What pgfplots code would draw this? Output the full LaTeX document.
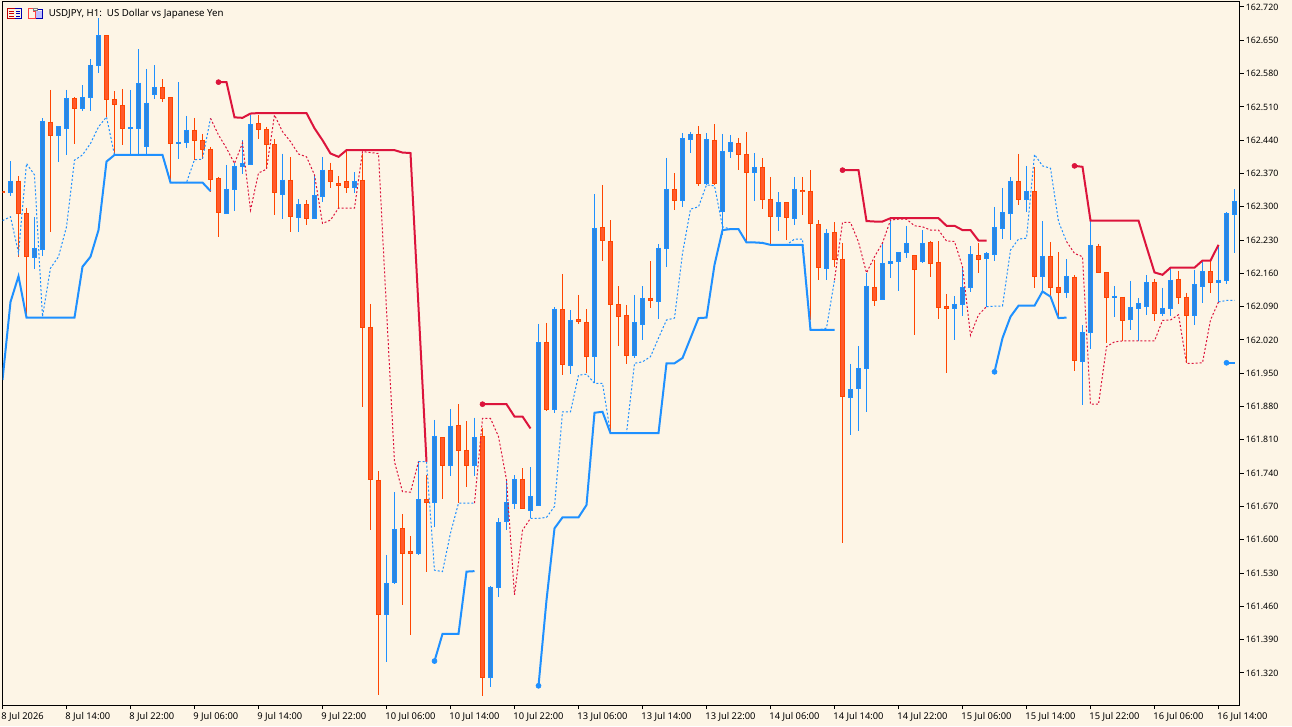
\documentclass[border=0pt]{standalone}
\usepackage{pgfplots}
\usepackage{pgfplotstable}
\usepackage{fontspec}
\setmainfont{Noto Sans}
\pgfplotsset{compat=1.18}
\definecolor{bg}{HTML}{FDF5E6}
\definecolor{upw}{HTML}{1E90FF}
\definecolor{upb}{HTML}{2E86DE}
\definecolor{dnw}{HTML}{FF4500}
\definecolor{dnb}{HTML}{FF5A2B}
\definecolor{stred}{HTML}{DC143C}
\pgfplotstableread{
i h t b l
1 162.396 162.354 162.330 162.323
4 162.278 162.213 162.194 162.170
5 162.486 162.480 162.210 162.197
7 162.468 162.468 162.450 162.395
8 162.546 162.528 162.464 162.409
10 162.556 162.530 162.506 162.501
11 162.610 162.598 162.529 162.501
12 162.696 162.660 162.597 162.582
16 162.546 162.466 162.464 162.409
17 162.631 162.560 162.464 162.411
18 162.590 162.518 162.426 162.409
19 162.598 162.551 162.537 162.527
22 162.562 162.436 162.433 162.400
23 162.491 162.461 162.435 162.423
28 162.388 162.337 162.286 162.286
29 162.391 162.385 162.336 162.291
30 162.440 162.391 162.384 162.369
31 162.493 162.473 162.389 162.389
35 162.412 162.356 162.326 162.274
37 162.316 162.305 162.277 162.246
39 162.367 162.324 162.276 162.276
40 162.405 162.377 162.321 162.309
44 162.373 162.354 162.340 162.330
48 161.568 161.508 161.442 161.344
49 161.700 161.622 161.510 161.507
52 161.766 161.685 161.571 161.567
54 161.852 161.818 161.678 161.627
56 161.875 161.839 161.756 161.734
59 161.857 161.815 161.756 161.734
61 161.503 161.500 161.310 161.291
62 161.645 161.637 161.499 161.480
63 161.726 161.679 161.638 161.620
64 161.736 161.727 161.676 161.665
66 161.752 161.691 161.661 161.645
67 162.054 162.014 161.672 161.672
69 162.089 162.085 161.873 161.867
71 162.083 162.061 161.966 161.948
74 162.327 162.255 161.985 161.929
79 162.115 162.056 161.987 161.982
80 162.133 162.108 162.052 162.019
82 162.221 162.213 162.100 162.064
83 162.403 162.337 162.212 162.174
85 162.455 162.444 162.313 162.300
86 162.458 162.453 162.441 162.413
88 162.455 162.442 162.349 162.346
90 162.453 162.417 162.290 162.241
91 162.451 162.436 162.416 162.403
94 162.413 162.383 162.372 162.312
97 162.331 162.309 162.279 162.249
99 162.363 162.337 162.275 162.262
103 162.253 162.244 162.170 162.146
106 161.970 161.916 161.899 161.820
107 162.007 161.960 161.918 161.829
108 162.160 162.133 161.960 161.869
110 162.227 162.181 162.105 162.104
111 162.274 162.185 162.180 162.151
112 162.204 162.204 162.185 162.123
113 162.260 162.222 162.203 162.193
115 162.251 162.223 162.184 162.182
119 162.112 162.095 162.086 162.020
120 162.174 162.131 162.094 162.071
121 162.218 162.200 162.130 162.121
123 162.205 162.201 162.191 162.090
124 162.300 162.257 162.199 162.187
125 162.340 162.288 162.254 162.232
126 162.362 162.354 162.285 162.230
128 162.386 162.333 162.315 162.289
130 162.270 162.196 162.153 162.121
133 162.190 162.154 162.119 162.108
135 162.051 162.036 161.974 161.883
136 162.270 162.219 162.035 162.001
139 162.133 162.112 162.109 162.068
141 162.144 162.089 162.063 162.041
142 162.108 162.096 162.086 162.017
143 162.156 162.140 162.091 162.073
145 162.130 162.087 162.075 162.070
146 162.169 162.146 162.086 162.070
149 162.168 162.136 162.071 162.051
150 162.184 162.163 162.133 162.098
152 162.220 162.146 162.140 162.098
153 162.289 162.285 162.145 162.138
154 162.337 162.312 162.283 162.203
}\upcandles
\pgfplotstableread{
i h t b l
0 162.333 162.333 162.330 162.330
2 162.365 162.354 162.286 162.195
3 162.297 162.286 162.195 162.066
6 162.546 162.478 162.450 162.248
9 162.530 162.528 162.506 162.432
13 162.661 162.660 162.526 162.489
14 162.543 162.526 162.515 162.409
15 162.548 162.513 162.464 162.430
20 162.568 162.551 162.527 162.521
21 162.530 162.530 162.433 162.351
24 162.487 162.461 162.439 162.399
25 162.453 162.440 162.420 162.400
26 162.426 162.421 162.357 162.332
27 162.363 162.360 162.288 162.237
32 162.493 162.475 162.462 162.443
33 162.468 162.463 162.431 162.379
34 162.442 162.431 162.330 162.283
36 162.405 162.356 162.279 162.246
38 162.314 162.305 162.276 162.262
41 162.393 162.377 162.354 162.340
42 162.365 162.348 162.345 162.297
43 162.418 162.354 162.340 162.330
45 162.412 162.356 162.046 161.880
46 162.096 162.047 161.726 161.620
47 161.745 161.725 161.442 161.274
50 161.654 161.624 161.571 161.463
51 161.608 161.576 161.571 161.400
53 161.736 161.685 161.678 161.532
55 161.816 161.815 161.756 161.686
57 161.885 161.841 161.787 161.677
58 161.849 161.788 161.756 161.711
60 161.834 161.818 161.310 161.272
65 161.750 161.727 161.665 161.665
68 162.056 162.015 161.873 161.871
70 162.159 162.084 161.968 161.946
72 162.115 162.063 162.058 162.054
73 162.085 162.057 161.985 161.950
75 162.346 162.257 162.229 162.186
76 162.272 162.227 162.094 161.824
77 162.133 162.095 162.070 162.007
78 162.094 162.072 161.987 161.970
81 162.186 162.108 162.103 162.087
84 162.370 162.337 162.314 162.293
87 162.470 162.452 162.349 162.344
89 162.474 162.440 162.349 162.346
92 162.445 162.433 162.409 162.377
93 162.457 162.410 162.372 162.226
95 162.403 162.383 162.315 162.295
96 162.363 162.316 162.279 162.222
98 162.309 162.309 162.277 162.230
100 162.363 162.335 162.332 162.283
101 162.377 162.333 162.264 162.062
102 162.272 162.263 162.172 162.146
104 162.267 162.246 162.189 162.173
105 162.223 162.190 161.901 161.593
109 162.188 162.131 162.103 162.092
114 162.197 162.197 162.168 162.030
116 162.229 162.225 162.180 162.152
117 162.228 162.183 162.088 162.064
118 162.117 162.091 162.086 161.951
122 162.224 162.198 162.189 162.161
127 162.411 162.354 162.315 162.304
129 162.383 162.333 162.153 162.129
131 162.225 162.196 162.130 162.108
132 162.205 162.131 162.119 162.069
134 162.156 162.152 161.976 161.955
137 162.222 162.217 162.161 162.161
138 162.162 162.162 162.109 162.014
140 162.110 162.110 162.061 162.018
144 162.148 162.140 162.075 162.060
147 162.166 162.148 162.109 162.096
148 162.119 162.110 162.071 161.971
151 162.186 162.163 162.141 162.118
}\dncandles
\newcommand{\candleset}[3]{%
  \addplot[draw=none,mark=none,forget plot,error bars/.cd,y dir=minus,y explicit,error mark=none,error bar style={draw=#2,solid,line width=0.75pt}]
    table[x=i,y expr=\thisrow{h},y error minus expr=\thisrow{h}-\thisrow{l}]{#1};
  \addplot[draw=none,mark=none,forget plot,error bars/.cd,y dir=minus,y explicit,error mark=none,error bar style={draw=#2,solid,line width=3.75pt}]
    table[x=i,y expr=\thisrow{t}+0.001,y error minus expr=\thisrow{t}-\thisrow{b}+0.002]{#1};
  \addplot[draw=none,mark=none,forget plot,error bars/.cd,y dir=minus,y explicit,error mark=none,error bar style={draw=#3,solid,line width=2.4pt}]
    table[x=i,y expr=\thisrow{t}-0.001,y error minus expr=\thisrow{t}-\thisrow{b}-0.002]{#1};
}
\begin{document}
\begin{tikzpicture}
\fill[bg] (-1.875pt,-15.75pt) rectangle (967.125pt,528.75pt);
\begin{axis}[
  at={(0,0)},anchor=south west,
  scale only axis,width=927.75pt,height=527.25pt,
  xmin=0,xmax=154.625,ymin=161.2526,ymax=162.7305,
  axis line style={black,line width=0.75pt},
  tick style={black,line width=0.75pt},
  tick align=outside,major tick length=3pt,
  xtick pos=bottom,ytick pos=right,
  xtick={0,8,...,152},
  xticklabels={8 Jul 2026,8 Jul 14:00,8 Jul 22:00,9 Jul 06:00,9 Jul 14:00,9 Jul 22:00,10 Jul 06:00,10 Jul 14:00,10 Jul 22:00,13 Jul 06:00,13 Jul 14:00,13 Jul 22:00,14 Jul 06:00,14 Jul 14:00,14 Jul 22:00,15 Jul 06:00,15 Jul 14:00,15 Jul 22:00,16 Jul 06:00,16 Jul 14:00},
  xticklabel style={anchor=north west,inner sep=0pt,font=\fontsize{7}{8}\selectfont,yshift=-2.6pt,xshift=-1pt},
  ytick={161.32,161.39,161.46,161.53,161.60,161.67,161.74,161.81,161.88,161.95,162.02,162.09,162.16,162.23,162.30,162.37,162.44,162.51,162.58,162.65,162.72},
  yticklabel style={anchor=west,inner sep=0pt,font=\fontsize{6.6}{7}\selectfont,xshift=1.5pt,/pgf/number format/.cd,fixed,fixed zerofill,precision=3,1000 sep={},assume math mode=true},
  clip=true,
]
\candleset{\upcandles}{upw}{upb}
\candleset{\dncandles}{dnw}{dnb}
% dashed band, blue parts
\addplot[upw,line width=0.75pt,dash pattern=on 1.5pt off 1.5pt] coordinates {(0,162.271)(1,162.279)(2,162.203)(3,162.391)(4,162.367)(5,162.069)(6,162.171)(7,162.195)(8,162.258)(9,162.398)(10,162.409)(11,162.433)(12,162.468)(13,162.489)(14,162.409)(20,162.409)(21,162.351)(23,162.351)(24,162.399)(25,162.400)(26,162.486)};
\addplot[upw,line width=0.75pt,dash pattern=on 1.5pt off 1.5pt] coordinates {(52,161.764)(53,161.764)(54,161.536)(55,161.533)(56,161.614)(57,161.677)(59,161.677)};
\addplot[upw,line width=0.75pt,dash pattern=on 1.5pt off 1.5pt] coordinates {(66,161.645)(67,161.645)(68,161.647)(69,161.670)(70,161.869)(71,161.869)(72,161.946)(73,161.948)(74,161.929)(75,161.929)(76,161.824)(78,161.824)(79,161.971)(80,161.974)(81,161.985)(82,162.024)(83,162.062)(84,162.066)(85,162.202)(86,162.295)(87,162.300)(88,162.346)(89,162.344)(90,162.258)(91,162.253)(92,162.253)(93,162.225)(95,162.225)(96,162.220)(98,162.220)(99,162.232)(100,162.232)(101,162.041)(102,162.041)(103,162.045)(104,162.146)};
\addplot[upw,line width=0.75pt,dash pattern=on 1.5pt off 1.5pt] coordinates {(123,162.090)(124,162.091)(125,162.091)(126,162.209)(127,162.232)(128,162.234)(129,162.410)(130,162.386)(131,162.381)(132,162.269)(133,162.227)};
\addplot[upw,line width=0.75pt,dash pattern=on 1.5pt off 1.5pt] coordinates {(152,162.100)(153,162.103)(154,162.103)};
% dashed band, red parts
\addplot[stred,line width=0.75pt,dash pattern=on 1.5pt off 1.5pt] coordinates {(26,162.486)(27,162.451)(28,162.423)(29,162.391)(30,162.434)(31,162.293)(32,162.371)(33,162.379)(34,162.493)(35,162.458)(36,162.437)(37,162.411)(38,162.405)(39,162.367)(40,162.265)(41,162.272)(42,162.297)(44,162.297)(45,162.416)(46,162.414)(47,162.412)(48,162.083)(49,161.764)(50,161.701)(51,161.700)(52,161.764)};
\addplot[stred,line width=0.75pt,dash pattern=on 1.5pt off 1.5pt] coordinates {(59,161.677)(60,161.855)(61,161.855)(62,161.817)(63,161.726)(64,161.484)(65,161.620)(66,161.645)};
\addplot[stred,line width=0.75pt,dash pattern=on 1.5pt off 1.5pt] coordinates {(104,162.146)(105,162.267)(106,162.267)(107,162.226)(108,162.161)(109,162.195)(110,162.224)(111,162.272)(112,162.274)(113,162.274)(114,162.260)(115,162.258)(116,162.251)(117,162.251)(118,162.228)(119,162.227)(120,162.174)(121,162.030)(122,162.073)(123,162.090)};
\addplot[stred,line width=0.75pt,dash pattern=on 1.5pt off 1.5pt] coordinates {(133,162.227)(134,162.202)(135,162.195)(136,161.885)(137,161.885)(138,162.006)(139,162.016)(140,162.018)(144,162.018)(145,162.061)(146,162.062)(147,162.073)(148,161.971)(149,161.971)(150,161.972)(151,162.062)(152,162.100)};
% solid blue
\addplot[upw,line width=1.5pt] coordinates {(0,161.936)(1,162.100)(2,162.154)(3,162.067)(9,162.067)(10,162.174)(11,162.195)(12,162.251)(13,162.395)(14,162.409)(20,162.409)(21,162.351)(25,162.351)(26,162.333)};
\addplot[upw,line width=1.5pt] coordinates {(54,161.345)(55,161.402)(57,161.402)(58,161.533)(59,161.534)};
\addplot[upw,line width=1.5pt] coordinates {(67,161.293)(68,161.473)(69,161.624)(70,161.647)(72,161.647)(73,161.673)(74,161.867)(75,161.869)(76,161.824)(82,161.824)(83,161.971)(84,161.971)(85,161.982)(86,162.024)(87,162.066)(88,162.067)(89,162.178)(90,162.251)(91,162.253)(92,162.253)(93,162.225)(94,162.225)(95,162.224)(96,162.220)(100,162.220)(101,162.041)(104,162.041)};
\addplot[upw,line width=1.5pt] coordinates {(124,161.953)(125,162.024)(126,162.069)(127,162.092)(129,162.092)(130,162.122)(131,162.111)(132,162.066)(133,162.067)};
\addplot[upw,line width=1.5pt] coordinates {(153,161.972)(154,161.972)};
% solid red
\addplot[stred,line width=1.5pt] coordinates {(27,162.562)(28,162.562)(29,162.488)(30,162.487)(31,162.496)(32,162.497)(38,162.497)(39,162.465)(40,162.440)(41,162.412)(42,162.405)(43,162.419)(49,162.419)(50,162.414)(51,162.413)(52,162.089)(53,161.764)};
\addplot[stred,line width=1.5pt] coordinates {(60,161.885)(63,161.885)(64,161.859)(65,161.859)(66,161.834)};
\addplot[stred,line width=1.5pt] coordinates {(105,162.377)(107,162.377)(108,162.270)(109,162.269)(110,162.269)(111,162.276)(117,162.276)(118,162.260)(119,162.260)(120,162.251)(121,162.251)(122,162.229)(123,162.229)};
\addplot[stred,line width=1.5pt] coordinates {(134,162.386)(135,162.384)(136,162.271)(142,162.271)(143,162.216)(144,162.162)(145,162.157)(146,162.172)(149,162.172)(150,162.187)(151,162.187)(152,162.220)};
% start dots
\addplot[only marks,mark=*,mark size=1.9pt,mark options={draw=upw,fill=upw}] coordinates {(54,161.345)(67,161.293)(124,161.953)(153,161.972)};
\addplot[only marks,mark=*,mark size=1.9pt,mark options={draw=stred,fill=stred}] coordinates {(27,162.562)(60,161.885)(105,162.377)(134,162.386)};
\end{axis}
\begin{scope}[shift={(-1.875pt,528.75pt)},x=0.75pt,y=-0.75pt]
\node[anchor=west,inner sep=0pt,font=\fontsize{7.25}{8}\selectfont] at (48.5,14) {USDJPY, H1:\ \ US Dollar vs Japanese Yen};
% toolbar icons
\draw[red!75!black,line width=0.6pt] (7.5,8.5) rectangle (21.5,18.5);
\draw[blue!70!black,line width=0.6pt] (15,8.5) -- (21.5,8.5) -- (21.5,18.5) -- (15,18.5);
\draw[red!80!black,line width=0.6pt] (9,11) -- (14,11) (9,13.5) -- (14,13.5) (9,16) -- (14,16);
\draw[blue!70!black,line width=0.6pt] (16,11) -- (20,11) (16,13.5) -- (20,13.5) (16,16) -- (20,16);
\draw[red!75,line width=0.6pt] (28.5,8.5) -- (33,8.5) -- (33,11) -- (35.5,11) -- (35.5,18.5) -- (28.5,18.5) -- cycle;
\fill[blue!25] (36,11) rectangle (42.5,18.5);
\draw[blue!70!black,line width=0.6pt] (36,18.5) -- (42.5,18.5) -- (42.5,9) -- (38,9);
\draw[gray,line width=0.6pt] (33,8) rectangle (37.5,10.5);
\end{scope}
\end{tikzpicture}
\end{document}
